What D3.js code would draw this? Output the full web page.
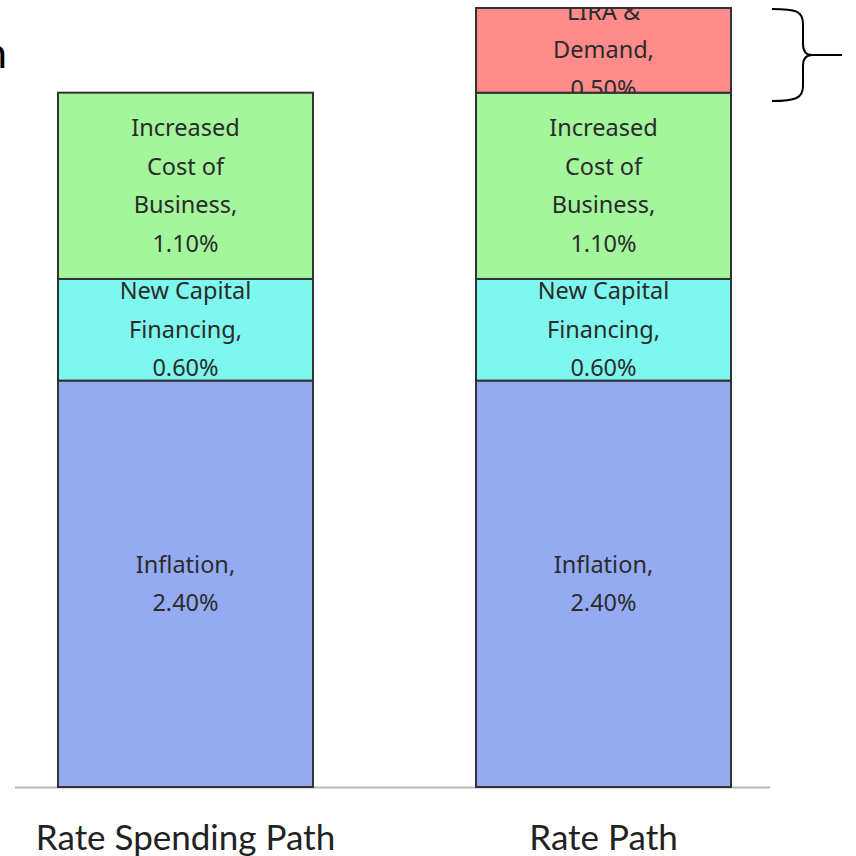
<!DOCTYPE html>
<html lang="en">
<head>
  <meta charset="UTF-8">
  <title>Rate Path</title>
  <script src="https://d3js.org/d3.v7.min.js"></script>
  <style>
    body { margin: 0; background: #fff; }
    .seg-label { font-family: "Noto Sans", sans-serif; font-size: 23.5px; fill: #2b2b2b; }
    .cat-label { font-family: Lato, "Open Sans", sans-serif; font-size: 35px; fill: #222; }
  </style>
</head>
<body>
<svg width="856" height="856"></svg>
<script>
  const categories = ["Rate Spending Path", "Rate Path"];
  const segments = ["Inflation", "New Capital Financing", "Increased Cost of Business", "LIRA & Demand"];
  const inflation = [2.4, 2.4];
  const newCapital = [0.6, 0.6];
  const costOfBusiness = [1.1, 1.1];
  const liraDemand = [0, 0.5];
  const segLines = [["Inflation,"], ["New Capital", "Financing,"], ["Increased", "Cost of", "Business,"], ["LIRA &", "Demand,"]];
  const colors = ["#94abf3", "#7ef8ee", "#a3f69c", "#ff8b8b"];

  const width = 856, height = 856;
  const svg = d3.select("svg").attr("width", width).attr("height", height);

  const x = d3.scaleBand().domain(categories).range([58, 731]).paddingInner(0.39).paddingOuter(0);
  const y = d3.scaleLinear().domain([0, 4.6]).range([787, 8]);

  const rows = categories.map((c, i) => ({
    cat: c,
    "Inflation": inflation[i],
    "New Capital Financing": newCapital[i],
    "Increased Cost of Business": costOfBusiness[i],
    "LIRA & Demand": liraDemand[i]
  }));
  const stacked = d3.stack().keys(segments)(rows);

  // cut-off title letter at the top left
  svg.append("text")
    .attr("x", 7).attr("y", 68)
    .attr("text-anchor", "end")
    .attr("font-family", "Lato, sans-serif")
    .attr("font-size", 42)
    .attr("fill", "#000")
    .text("n");

  // baseline
  svg.append("line")
    .attr("x1", 15).attr("x2", 770)
    .attr("y1", y(0) + 0.5).attr("y2", y(0) + 0.5)
    .attr("stroke", "#b8b8b8").attr("stroke-width", 2);

  const defs = svg.append("defs");
  let clipId = 0;

  stacked.forEach((layer, k) => {
    layer.forEach(d => {
      const val = d[1] - d[0];
      if (val <= 0) return;
      const x0 = x(d.data.cat), w = x.bandwidth();
      const top = y(d[1]), bot = y(d[0]);
      const id = "clip" + (clipId++);
      defs.append("clipPath").attr("id", id)
        .append("rect").attr("x", x0).attr("y", top).attr("width", w).attr("height", bot - top);

      svg.append("rect")
        .attr("x", x0).attr("y", top)
        .attr("width", w).attr("height", bot - top)
        .attr("fill", colors[k])
        .attr("stroke", "#333").attr("stroke-width", 2);

      // label is clipped to its own box, like the original
      const lines = segLines[k].concat([d3.format(".2f")(val) + "%"]);
      const lh = 38.5;
      const mid = (top + bot) / 2;
      const g = svg.append("g").attr("clip-path", `url(#${id})`);
      lines.forEach((t, j) => {
        g.append("text")
          .attr("class", "seg-label")
          .attr("x", x0 + w / 2)
          .attr("y", mid + (j - (lines.length - 1) / 2) * lh + 8)
          .attr("text-anchor", "middle")
          .text(t);
      });
    });
  });

  // category labels
  svg.selectAll(".cat-label")
    .data(categories)
    .join("text")
    .attr("class", "cat-label")
    .attr("x", d => x(d) + x.bandwidth() / 2)
    .attr("y", 850)
    .attr("text-anchor", "middle")
    .text(d => d);

  // brace at the top right
  svg.append("path")
    .attr("d", "M772,9 C796,9 803,11 803,24 L803,44 C803,52 806,55 812,55 C806,55 803,58 803,66 L803,86 C803,98 796,101 772,101 M812,55 L842,55")
    .attr("fill", "none")
    .attr("stroke", "#000")
    .attr("stroke-width", 2);
</script>
</body>
</html>
